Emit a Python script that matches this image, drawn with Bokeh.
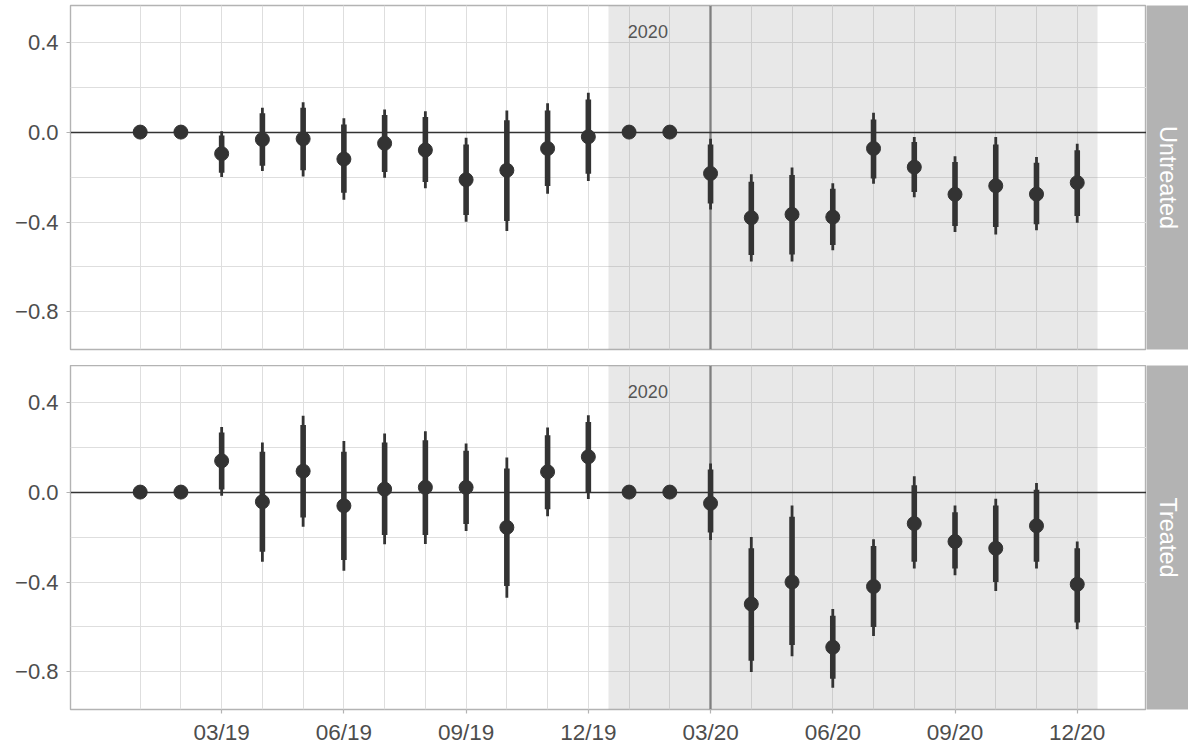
import numpy as np
from bokeh.plotting import figure
from bokeh.models import ColumnDataSource, FixedTicker, CustomJSTickFormatter, Range1d, Grid
from bokeh.layouts import row, column
from bokeh.embed import file_html
from bokeh.resources import INLINE
from bokeh.core.properties import value

nan = float("nan")

months = ["01/19", "02/19", "03/19", "04/19", "05/19", "06/19", "07/19", "08/19",
          "09/19", "10/19", "11/19", "12/19", "01/20", "02/20", "03/20", "04/20",
          "05/20", "06/20", "07/20", "08/20", "09/20", "10/20", "11/20", "12/20"]
tick_months = ["03/19", "06/19", "09/19", "12/19", "03/20", "06/20", "09/20", "12/20"]
y_major = [-0.8, -0.4, 0.0, 0.4]
y_minor = [-0.6, -0.2, 0.2]
shade_from, shade_to = "12/19", "12/20"
event_month = "03/20"
shade_label = "2020"
panels = ["Untreated", "Treated"]

# Untreated
est_u = [0, 0, -0.096, -0.033, -0.030, -0.120, -0.050, -0.080, -0.212, -0.170, -0.073, -0.021,
         0, 0, -0.184, -0.381, -0.366, -0.378, -0.073, -0.156, -0.277, -0.239, -0.276, -0.225]
in_lo_u = [nan, nan, -0.181, -0.150, -0.170, -0.270, -0.178, -0.222, -0.369, -0.396, -0.240, -0.185,
           nan, nan, -0.318, -0.547, -0.544, -0.502, -0.206, -0.267, -0.418, -0.422, -0.410, -0.373]
in_hi_u = [nan, nan, -0.015, 0.084, 0.108, 0.034, 0.076, 0.067, -0.055, 0.053, 0.096, 0.145,
           nan, nan, -0.055, -0.221, -0.191, -0.252, 0.056, -0.044, -0.133, -0.055, -0.136, -0.081]
out_lo_u = [nan, nan, -0.200, -0.173, -0.197, -0.301, -0.203, -0.250, -0.399, -0.440, -0.274, -0.218,
            nan, nan, -0.344, -0.576, -0.576, -0.526, -0.230, -0.290, -0.444, -0.455, -0.437, -0.403]
out_hi_u = [nan, nan, 0.004, 0.108, 0.133, 0.061, 0.100, 0.093, -0.025, 0.096, 0.128, 0.175,
            nan, nan, -0.030, -0.188, -0.158, -0.228, 0.086, -0.022, -0.107, -0.022, -0.111, -0.052]

# Treated
est_t = [0, 0, 0.139, -0.043, 0.093, -0.061, 0.013, 0.021, 0.021, -0.157, 0.090, 0.157,
         0, 0, -0.050, -0.498, -0.400, -0.690, -0.420, -0.140, -0.220, -0.250, -0.150, -0.410]
in_lo_t = [nan, nan, 0.012, -0.265, -0.113, -0.302, -0.191, -0.191, -0.142, -0.418, -0.076, -0.003,
           nan, nan, -0.180, -0.750, -0.680, -0.830, -0.600, -0.310, -0.340, -0.400, -0.310, -0.580]
in_hi_t = [nan, nan, 0.265, 0.179, 0.298, 0.179, 0.221, 0.231, 0.184, 0.105, 0.253, 0.312,
           nan, nan, 0.100, -0.250, -0.110, -0.550, -0.240, 0.030, -0.090, -0.060, 0.010, -0.250]
out_lo_t = [nan, nan, -0.016, -0.310, -0.154, -0.350, -0.232, -0.231, -0.173, -0.470, -0.107, -0.031,
            nan, nan, -0.213, -0.800, -0.730, -0.870, -0.640, -0.340, -0.370, -0.440, -0.340, -0.610]
out_hi_t = [nan, nan, 0.290, 0.221, 0.339, 0.227, 0.261, 0.271, 0.216, 0.154, 0.287, 0.342,
            nan, nan, 0.127, -0.200, -0.060, -0.520, -0.210, 0.070, -0.060, -0.030, 0.040, -0.220]

series = {
    "Untreated": (est_u, in_lo_u, in_hi_u, out_lo_u, out_hi_u),
    "Treated": (est_t, in_lo_t, in_hi_t, out_lo_t, out_hi_t),
}

FONT = "Liberation Sans"
DARK = "#333333"
BORDER = "#B3B3B3"
GRID = "#DEDEDE"
TXT = "#4D4D4D"

xidx = np.arange(len(months), dtype=float)
x_range = (-1.71, 24.7)
y_range = (-0.967, 0.563)

FRAME_W = 1076
FRAME_H = 344
LEFT = 70
TOP = 5
STRIP_W = 42
GAP = 16
BOTTOM = 41


def make_panel(name, bottom):
    est, ilo, ihi, olo, ohi = series[name]
    src = ColumnDataSource(dict(
        x=xidx,
        est=np.array(est, dtype=float),
        ilo=np.array(ilo, dtype=float), ihi=np.array(ihi, dtype=float),
        olo=np.array(olo, dtype=float), ohi=np.array(ohi, dtype=float),
    ))
    bb = BOTTOM if bottom else GAP
    tb = 0 if bottom else TOP
    p = figure(width=LEFT + FRAME_W, height=FRAME_H + bb + tb,
               x_range=Range1d(*x_range), y_range=Range1d(*y_range),
               x_axis_location="below" if bottom else None,
               output_backend="svg", toolbar_location=None,
               min_border_left=LEFT, min_border_right=0, min_border_top=tb,
               min_border_bottom=bb)
    p.title.visible = False
    p.background_fill_color = "white"
    p.border_fill_color = "white"
    p.outline_line_color = BORDER
    p.outline_line_width = 1.4

    for g in p.grid:
        g.visible = False

    xt = FixedTicker(ticks=[months.index(m) for m in tick_months],
                     minor_ticks=list(range(len(months))))
    yt = FixedTicker(ticks=y_major, minor_ticks=y_minor)
    for dim, tk in ((0, xt), (1, yt)):
        g = Grid(dimension=dim, ticker=tk, grid_line_color=GRID, grid_line_width=1,
                 minor_grid_line_color=GRID, minor_grid_line_width=1)
        p.add_layout(g)

    ya = p.yaxis[0]
    ya.ticker = yt
    ya.formatter = CustomJSTickFormatter(code="return tick.toFixed(1).replace('-', '\u2212');")
    ya.axis_line_color = None
    ya.major_tick_line_color = BORDER
    ya.major_tick_line_width = 1.2
    ya.major_tick_out = 4
    ya.major_tick_in = 0
    ya.minor_tick_out = 0
    ya.minor_tick_in = 0
    ya.major_label_text_font = FONT
    ya.major_label_text_font_size = "22px"
    ya.major_label_text_color = TXT
    ya.major_label_standoff = 8

    if bottom:
        xa = p.xaxis[0]
        xa.ticker = xt
        xa.major_label_overrides = {months.index(m): m for m in tick_months}
        xa.axis_line_color = None
        xa.major_tick_line_color = BORDER
        xa.major_tick_line_width = 1.2
        xa.major_tick_out = 4
        xa.major_tick_in = 0
        xa.minor_tick_out = 0
        xa.minor_tick_in = 0
        xa.major_label_text_font = FONT
        xa.major_label_text_font_size = "22.5px"
        xa.major_label_text_color = TXT
        xa.major_label_standoff = 6

    p.vstrip(x0=[months.index(shade_from) + 0.5], x1=[months.index(shade_to) + 0.5],
             fill_color="#808080", fill_alpha=0.18, line_color=None)
    p.text(x=[months.index("01/20") - 0.03], y=[0.447], text=[shade_label],
           text_align="left", text_baseline="middle", text_color="#555555",
           text_font=value(FONT), text_font_size="18px")
    p.vspan(x=[months.index(event_month)], line_color="#7F7F7F", line_width=2.3)
    p.hspan(y=[0], line_color=DARK, line_width=1.3)

    p.segment(x0="x", y0="olo", x1="x", y1="ohi", source=src, line_color=DARK, line_width=2.8)
    p.segment(x0="x", y0="ilo", x1="x", y1="ihi", source=src, line_color=DARK, line_width=5.6)
    p.scatter(x="x", y="est", source=src, size=14, fill_color=DARK, line_color=DARK)
    return p


def make_strip(name, bottom):
    bb = BOTTOM if bottom else GAP
    tb = 0 if bottom else TOP
    s = figure(width=STRIP_W, height=FRAME_H + bb + tb,
               x_range=Range1d(0, 1), y_range=Range1d(0, 1),
               x_axis_location=None, y_axis_location=None,
               output_backend="svg", toolbar_location=None,
               min_border_left=0, min_border_right=0, min_border_top=tb,
               min_border_bottom=bb)
    s.title.visible = False
    s.grid.visible = False
    s.background_fill_color = BORDER
    s.border_fill_color = "white"
    s.outline_line_color = None
    s.text(x=[0.5], y=[0.5], text=[name], angle=-np.pi / 2,
           text_align="center", text_baseline="middle", text_color="white",
           text_font=value(FONT), text_font_size="23.5px")
    return s


p1 = make_panel(panels[0], False)
s1 = make_strip(panels[0], False)
p2 = make_panel(panels[1], True)
s2 = make_strip(panels[1], True)

layout = column(row(p1, s1), row(p2, s2))

open("out.html", "w").write(file_html(layout, INLINE))
